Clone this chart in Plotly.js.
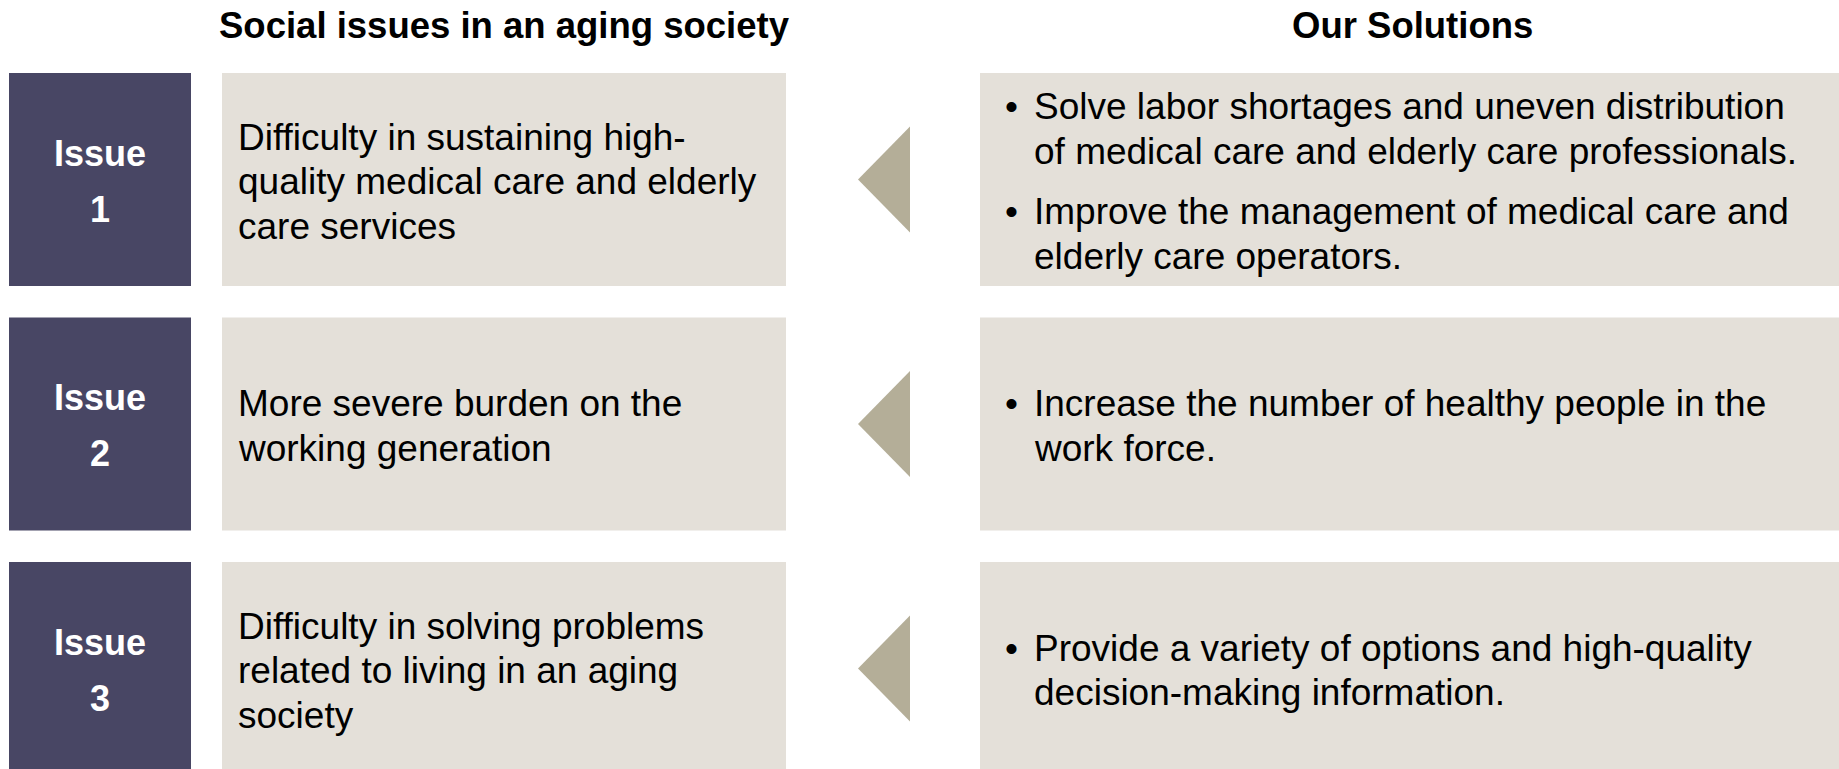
<!DOCTYPE html>
<html>
<head>
<meta charset="utf-8">
<script src="https://cdn.plot.ly/plotly-3.0.1.min.js"></script>
<style>
  html, body { margin: 0; padding: 0; background: #ffffff; overflow: hidden; }
  #chart { width: 1839px; height: 769px; }
</style>
</head>
<body>
<div id="chart"></div>
<script>
// content of the slide
const headings = ["Social issues in an aging society", "Our Solutions"];
const issueNumbers = ["1", "2", "3"];
const issueLines = [
  ["Difficulty in sustaining high-", "quality medical care and elderly", "care services"],
  ["More severe burden on the", "working generation"],
  ["Difficulty in solving problems", "related to living in an aging", "society"],
];
const solutionBullets = [
  [
    ["Solve labor shortages and uneven distribution", "of medical care and elderly care professionals."],
    ["Improve the management of medical care and", "elderly care operators."],
  ],
  [["Increase the number of healthy people in the", "work force."]],
  [["Provide a variety of options and high-quality", "decision-making information."]],
];

const W = 1839;
const H = 769;
const FONT = "Liberation Sans, Arial, sans-serif";
const DARK = "#484664";
const LIGHT = "#e4e0d9";
const ARROW = "#b4ae98";
const BODY_SIZE = 37;
const LINE_H = 44.5;
const PARA_GAP = 16;
const ROW_TOP = 73;
const ROW_PITCH = 244.5;
const ROW_H = 213;
const NUDGE = 2;

const shapes = [];
const annotations = [];

// baseline -> annotation centre (Liberation Sans ascent .905 / descent .212)
function textAt(text, x, baseline, opts = {}) {
  const size = opts.size || BODY_SIZE;
  annotations.push({
    text,
    x,
    y: baseline + NUDGE - 0.3465 * size,
    xref: "x",
    yref: "y",
    xanchor: opts.xanchor || "left",
    yanchor: "middle",
    showarrow: false,
    borderpad: 0,
    borderwidth: 0,
    font: { family: FONT, size, color: opts.color || "#000000" },
  });
}

function rect(x0, y0, x1, y1, color) {
  shapes.push({
    type: "rect", xref: "x", yref: "y", x0, y0, x1, y1,
    fillcolor: color, line: { width: 0 }, layer: "below",
  });
}

textAt(`<b>${headings[0]}</b>`, 504, 36, { xanchor: "center", size: 36.5 });
textAt(`<b>${headings[1]}</b>`, 1412, 36, { xanchor: "center", size: 36.5 });

issueNumbers.forEach((num, i) => {
  const top = ROW_TOP + i * ROW_PITCH;
  const bottom = top + ROW_H;
  const mid = top + ROW_H / 2;

  rect(9, top, 191, bottom, DARK);
  rect(222, top, 786, bottom, LIGHT);
  rect(980, top, W + 5, bottom, LIGHT);
  shapes.push({
    type: "path", xref: "x", yref: "y",
    path: `M 910 ${mid - 53} L 910 ${mid + 53} L 858 ${mid} Z`,
    fillcolor: ARROW, line: { width: 0 },
  });

  textAt("<b>Issue</b>", 100, mid - 16, { xanchor: "center", size: 36, color: "#ffffff" });
  textAt(`<b>${num}</b>`, 100, mid + 40, { xanchor: "center", size: 36, color: "#ffffff" });

  const lines = issueLines[i];
  const first = mid + 13 - ((lines.length - 1) * LINE_H) / 2;
  lines.forEach((line, k) => textAt(line, 238, first + k * LINE_H));

  const paras = solutionBullets[i];
  const nLines = paras.reduce((n, p) => n + p.length, 0);
  const span = (nLines - 1) * LINE_H + (paras.length - 1) * PARA_GAP;
  let base = mid + 13 - span / 2;
  paras.forEach((para) => {
    textAt("•", 1011, base, { xanchor: "center" });
    para.forEach((line) => {
      textAt(line, 1034, base);
      base += LINE_H;
    });
    base += PARA_GAP;
  });
});

const hidden = {
  visible: false, showgrid: false, zeroline: false, fixedrange: true,
};

Plotly.newPlot("chart", [], {
  width: W,
  height: H,
  margin: { l: 0, r: 0, t: 0, b: 0 },
  paper_bgcolor: "#ffffff",
  plot_bgcolor: "#ffffff",
  xaxis: { ...hidden, range: [0, W] },
  yaxis: { ...hidden, range: [H, 0] },
  shapes,
  annotations,
  showlegend: false,
}, { displayModeBar: false, staticPlot: true });
</script>
</body>
</html>
